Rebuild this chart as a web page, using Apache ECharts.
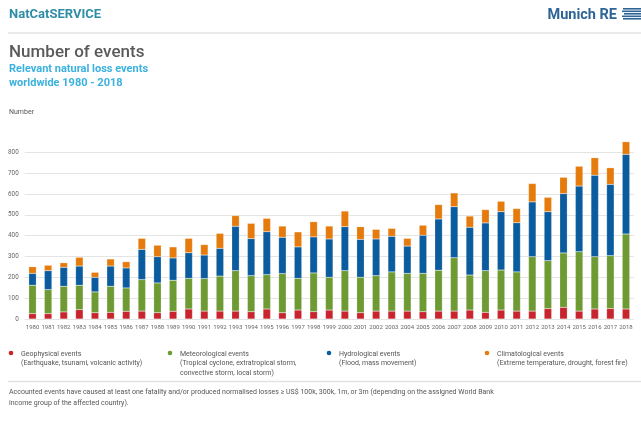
<!DOCTYPE html>
<html><head><meta charset="utf-8">
<script src="https://cdn.jsdelivr.net/npm/echarts@6/dist/echarts.min.js"></script>
<style>html,body{margin:0;padding:0;background:#fff}#c{width:641px;height:436px}</style>
</head><body><div id="c"></div>
<script>
const years = ['1980','1981','1982','1983','1984','1985','1986','1987','1988','1989','1990','1991','1992','1993','1994','1995','1996','1997','1998','1999','2000','2001','2002','2003','2004','2005','2006','2007','2008','2009','2010','2011','2012','2013','2014','2015','2016','2017','2018'];
const geophysical =   [26,26,34,45,30,32,37,38,30,37,48,38,38,38,35,48,30,43,35,43,38,30,38,38,38,35,38,38,43,32,43,38,38,50,56,38,48,50,48];
const meteorological =[136,115,123,117,100,125,112,151,143,149,147,156,168,194,173,165,188,152,186,157,194,170,170,188,181,184,196,256,168,200,192,188,261,230,261,285,251,254,360];
const hydrological =  [57,91,91,92,70,97,96,145,126,107,123,113,133,213,178,206,174,151,173,184,211,182,176,171,131,183,246,245,229,229,280,236,263,235,285,315,391,342,382];
const climatological =[32,26,22,42,24,34,30,53,55,53,69,50,72,51,73,64,54,72,73,62,75,61,46,38,37,48,69,66,54,64,50,68,88,69,78,95,84,80,61];
const yTicks = [0,100,200,300,400,500,600,700,800];
const seriesNames = ['Geophysical events','Meteorological events','Hydrological events','Climatological events'];
const seriesDesc = [
  ['(Earthquake, tsunami, volcanic activity)'],
  ['(Tropical cyclone, extratropical storm,','convective storm, local storm)'],
  ['(Flood, mass movement)'],
  ['(Extreme temperature, drought, forest fire)']
];
const colors = ['#c8242d','#6d9a33','#0a5c9e','#e57b0c'];

const chart = echarts.init(document.getElementById('c'), null, {renderer:'canvas'});
const font = 'Roboto, "Liberation Sans", sans-serif';
const dataSets = [geophysical, meteorological, hydrological, climatological];

const legendX = [11, 170, 329, 487];
const graphics = [
  {type:'text', left:9, top:8, style:{text:'NatCatSERVICE', fill:'#2f8ea6', font:'bold 13px '+font}},
  {type:'text', right:24, top:8, style:{text:'Munich RE', fill:'#2f6496', font:'bold 14.5px '+font}},
  {type:'line', shape:{x1:8,y1:33,x2:641,y2:33}, style:{stroke:'#e3e3e3', lineWidth:1.5}},
  {type:'text', left:9, top:44, style:{text:'Number of events', fill:'#5a5a5a', font:'500 17px '+font}},
  {type:'text', left:9, top:64, style:{text:'Relevant natural loss events', fill:'#3ab1de', font:'bold 11px '+font}},
  {type:'text', left:9, top:78, style:{text:'worldwide 1980 - 2018', fill:'#3ab1de', font:'bold 11px '+font}},
  {type:'text', left:9, top:109, style:{text:'Number', fill:'#555', font:'7px '+font}},
  {type:'line', shape:{x1:8,y1:381.5,x2:641,y2:381.5}, style:{stroke:'#e3e3e3', lineWidth:1.5}},
  {type:'text', left:9, top:387, style:{text:'Accounted events have caused at least one fatality and/or produced normalised losses \u2265 US$ 100k, 300k, 1m, or 3m (depending on the assigned World Bank\nincome group of the affected country).', fill:'#555', font:'7px '+font, lineHeight:11}}
];
[[8,1],[10.5,0],[13,2],[15.5,0],[18,1]].forEach(function(s){
  graphics.push({type:'rect', shape:{x:622+s[1], y:s[0], width:19-s[1], height:1.6}, style:{fill:'#2f6496'}});
});
seriesNames.forEach(function(n,i){
  graphics.push({type:'circle', shape:{cx:legendX[i], cy:353, r:2.3}, style:{fill:colors[i]}});
  graphics.push({type:'text', left:legendX[i]+10, top:349, style:{text:[n].concat(seriesDesc[i]).join('\n'), fill:'#555', font:'7px '+font, lineHeight:9.5}});
});

chart.setOption({
  animation:false,
  backgroundColor:'#fff',
  graphic: graphics,
  grid:{left:24.7, right:7.2, top:152.3, bottom:117},
  xAxis:{type:'category', data:years,
    axisLine:{show:false}, axisTick:{show:false},
    axisLabel:{color:'#666', fontSize:6, fontFamily:font, margin:5, interval:0}},
  yAxis:{type:'value', min:yTicks[0], max:yTicks[yTicks.length-1], interval:100,
    axisLine:{show:false}, axisTick:{show:false},
    splitLine:{lineStyle:{color:'#e4e4e4', width:1}},
    axisLabel:{color:'#666', fontSize:6.3, fontFamily:font, margin:6}},
  series: seriesNames.map(function(n,i){
    return {name:n, type:'bar', stack:'total', data:dataSets[i], barWidth:7.5, clip:false,
      itemStyle:{color:colors[i], borderColor:'rgba(255,255,255,0.5)', borderWidth:0.4}};
  })
});
</script></body></html>
